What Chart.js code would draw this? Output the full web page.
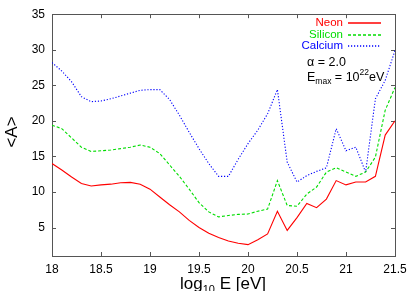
<!DOCTYPE html>
<html>
<head>
<meta charset="utf-8">
<script src="https://cdn.jsdelivr.net/npm/chart.js@4.4.0/dist/chart.umd.min.js"></script>
<style>
  html, body { margin: 0; padding: 0; background: #fff; }
  #wrap { width: 415px; height: 291px; }
</style>
</head>
<body>
<div id="wrap"><canvas id="chartCanvas" width="415" height="291"></canvas></div>
<script>
const FONT = '"Liberation Sans", Arial, Helvetica, sans-serif';

// log10 E values (0.1 steps)
let energies = [18.0, 18.1, 18.2, 18.3, 18.4, 18.5, 18.6, 18.7, 18.8, 18.9,
                19.0, 19.1, 19.2, 19.3, 19.4, 19.5, 19.6, 19.7, 19.8, 19.9,
                20.0, 20.1, 20.2, 20.3, 20.4, 20.5, 20.6, 20.7, 20.8, 20.9,
                21.0, 21.1, 21.2, 21.3, 21.4, 21.5];

let neon = [14.0, 13.1, 12.1, 11.2, 10.85, 11.0, 11.1, 11.3, 11.35, 11.1,
            10.4, 9.3, 8.2, 7.2, 6.0, 5.0, 4.2, 3.6, 3.1, 2.8,
            2.6, 3.3, 4.1, 7.3, 4.6, 6.4, 8.4, 7.8, 9.0, 11.6,
            11.0, 11.4, 11.4, 12.2, 18.0, 20.0];

let silicon = [19.4, 18.9, 17.6, 16.3, 15.7, 15.8, 15.9, 16.1, 16.3, 16.6,
               16.3, 15.4, 13.8, 12.2, 10.4, 8.5, 7.2, 6.5, 6.7, 6.85,
               6.9, 7.3, 7.6, 11.6, 8.1, 8.0, 9.7, 10.7, 12.8, 13.4,
               12.8, 12.2, 12.8, 14.9, 21.5, 24.7];

let calcium = [28.2, 27.0, 25.5, 23.4, 22.7, 22.8, 23.1, 23.5, 23.9, 24.3,
               24.4, 24.4, 23.0, 20.8, 18.4, 16.1, 14.0, 12.2, 12.2, 14.6,
               16.8, 18.7, 21.0, 24.4, 14.2, 11.4, 12.3, 12.9, 13.4, 18.9,
               15.8, 16.3, 12.8, 23.1, 25.7, 29.9];

let series_names = ["Neon", "Silicon", "Calcium"];
let COLORS = ["#ff0000", "#00dd00", "#0000ff"];
let DASHES = [[], [3, 2], [1.2, 1.8]];

let x_ticks = [18, 18.5, 19, 19.5, 20, 20.5, 21, 21.5];
let y_ticks = [5, 10, 15, 20, 25, 30, 35];

function toPoints(values) {
  let pts = [];
  for (let i = 0; i < energies.length; i++) {
    pts.push({x: energies[i], y: values[i]});
  }
  return pts;
}

function createDatasets() {
  let all = [neon, silicon, calcium];
  let datasets = [];
  for (let i = 0; i < all.length; i++) {
    datasets.push({
      label: series_names[i],
      data: toPoints(all[i]),
      borderColor: COLORS[i],
      borderWidth: 1.1,
      borderDash: DASHES[i],
      pointRadius: 0,
      fill: false,
      tension: 0
    });
  }
  return datasets;
}

function drawPart(ctx, txt, x, y, size) {
  ctx.font = size + 'px ' + FONT;
  ctx.fillText(txt, x, y);
  return x + ctx.measureText(txt).width;
}

// frame with inward ticks on all four sides (gnuplot look)
const framePlugin = {
  id: 'frame',
  beforeDatasetsDraw(chart) {
    const ctx = chart.ctx;
    const a = chart.chartArea;
    const xs = chart.scales.x, ys = chart.scales.y;
    ctx.save();
    ctx.strokeStyle = '#555';
    ctx.lineWidth = 1;
    ctx.strokeRect(Math.round(a.left) + 0.5, Math.round(a.top) + 0.5,
                   Math.round(a.right - a.left), Math.round(a.bottom - a.top));
    ctx.beginPath();
    x_ticks.forEach(v => {
      let px = Math.round(xs.getPixelForValue(v)) + 0.5;
      ctx.moveTo(px, a.bottom); ctx.lineTo(px, a.bottom - 4);
      ctx.moveTo(px, a.top); ctx.lineTo(px, a.top + 4);
    });
    y_ticks.forEach(v => {
      let py = Math.round(ys.getPixelForValue(v)) + 0.5;
      ctx.moveTo(a.left, py); ctx.lineTo(a.left + 4, py);
      ctx.moveTo(a.right, py); ctx.lineTo(a.right - 4, py);
    });
    ctx.stroke();
    ctx.restore();
  },
  afterDraw(chart) {
    const ctx = chart.ctx;
    ctx.save();
    ctx.textBaseline = 'middle';

    // legend: text right aligned, line sample to the right
    ctx.font = '11.5px ' + FONT;
    for (let i = 0; i < series_names.length; i++) {
      let y = 23 + i * 11.5;
      ctx.fillStyle = COLORS[i];
      ctx.textAlign = 'right';
      ctx.fillText(series_names[i], 343, y);
      ctx.beginPath();
      ctx.strokeStyle = COLORS[i];
      ctx.lineWidth = 1.3;
      ctx.setLineDash(DASHES[i]);
      ctx.moveTo(348, Math.round(y));
      ctx.lineTo(381, Math.round(y));
      ctx.stroke();
    }
    ctx.setLineDash([]);

    // annotation
    ctx.fillStyle = '#000';
    ctx.textAlign = 'left';
    ctx.font = '12.5px ' + FONT;
    ctx.fillText('\u03b1 = 2.0', 307, 63);
    let x = 307;
    x = drawPart(ctx, 'E', x, 78, 12.5);
    x = drawPart(ctx, 'max', x, 81.5, 8.5);
    x = drawPart(ctx, ' = 10', x, 78, 12.5);
    x = drawPart(ctx, '22', x, 73, 8.5);
    x = drawPart(ctx, 'eV', x, 78, 12.5);

    // axis titles
    ctx.textBaseline = 'alphabetic';
    ctx.font = '17px ' + FONT;
    let w1 = ctx.measureText('log').width;
    let w3 = ctx.measureText(' E [eV]').width;
    ctx.font = '11px ' + FONT;
    let w2 = ctx.measureText('10').width;
    let sx = 223 - (w1 + w2 + w3) / 2;
    ctx.font = '17px ' + FONT;
    ctx.fillText('log', sx, 289);
    ctx.font = '11px ' + FONT;
    ctx.fillText('10', sx + w1, 293);
    ctx.font = '17px ' + FONT;
    ctx.fillText(' E [eV]', sx + w1 + w2, 289);

    ctx.translate(12, 132);
    ctx.rotate(-Math.PI / 2);
    ctx.textAlign = 'center';
    ctx.textBaseline = 'middle';
    ctx.fillText('<A>', 0, 0);
    ctx.restore();
  }
};

function main() {
  new Chart(document.getElementById('chartCanvas').getContext('2d'), {
    type: 'line',
    data: { datasets: createDatasets() },
    options: {
      responsive: false,
      animation: false,
      events: [],
      layout: { padding: { top: 14, right: 20, left: 0, bottom: 0 } },
      plugins: { legend: { display: false }, tooltip: { enabled: false } },
      scales: {
        x: {
          type: 'linear',
          min: 18,
          max: 21.5,
          afterBuildTicks: s => { s.ticks = x_ticks.map(v => ({value: v})); },
          afterFit: s => { s.height = 35; },
          grid: { display: false, drawTicks: false },
          border: { display: false },
          ticks: {
            color: '#000', padding: 6, maxRotation: 0,
            font: { family: FONT, size: 12 },
            callback: v => String(v)
          }
        },
        y: {
          min: 1,
          max: 35,
          afterBuildTicks: s => { s.ticks = y_ticks.map(v => ({value: v})); },
          afterFit: s => { s.width = 52; },
          grid: { display: false, drawTicks: false },
          border: { display: false },
          ticks: { color: '#000', padding: 7, font: { family: FONT, size: 12 } }
        }
      }
    },
    plugins: [framePlugin]
  });
}

main();
</script>
</body>
</html>
